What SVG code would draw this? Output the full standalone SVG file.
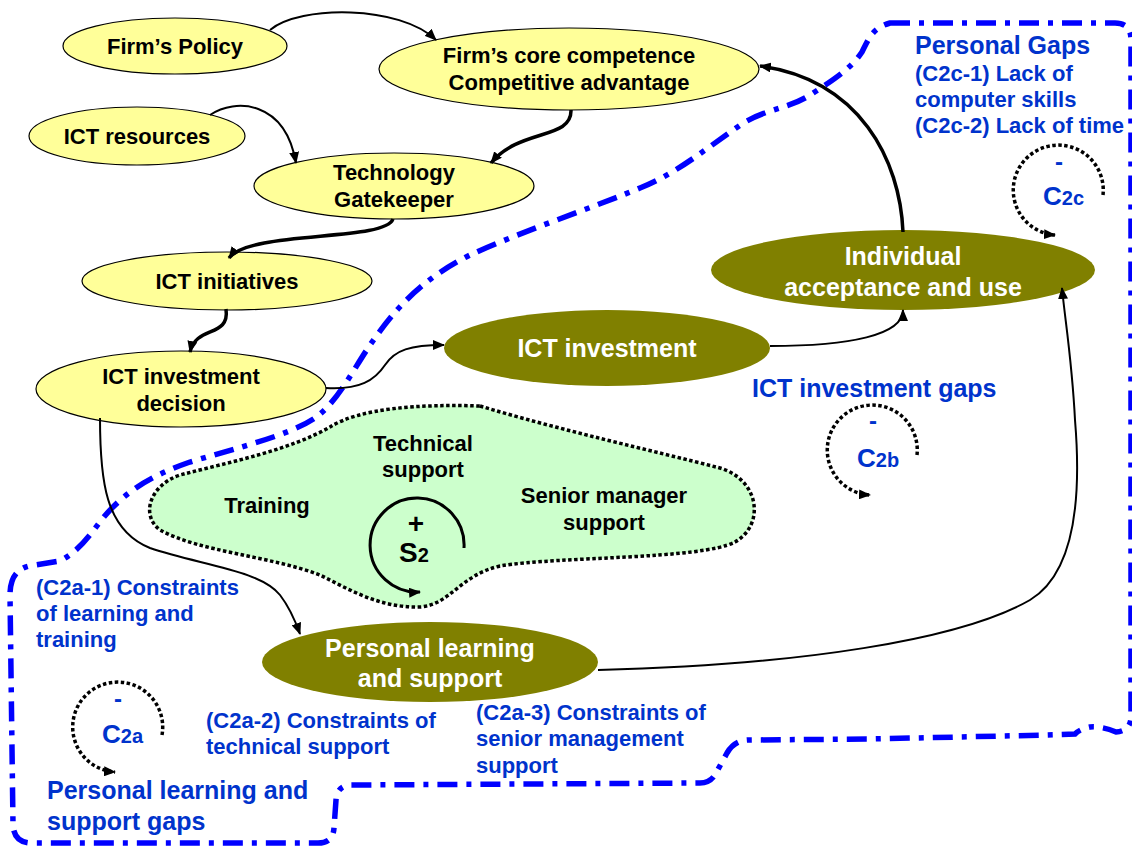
<svg xmlns="http://www.w3.org/2000/svg" width="1132" height="850" viewBox="0 0 1132 850">
<defs>
<style>
text{font-family:"Liberation Sans",Arial,sans-serif;font-weight:bold}
.yel{fill:#FFFF99;stroke:#000;stroke-width:1.2}
.olv{fill:#808000;stroke:none}
.nt{font-size:22px;fill:#000;text-anchor:middle}
.wt{font-size:25px;fill:#fff;text-anchor:middle}
.bl{font-size:22px;fill:#0033CC}
.blb{font-size:25px;fill:#0033CC}
.gt{font-size:22px;fill:#000;text-anchor:middle}
.cn{fill:none;stroke:#000;stroke-width:2}
.ck{fill:none;stroke:#000;stroke-width:3.5}
.dl{fill:none;stroke:#000;stroke-width:3.5;stroke-dasharray:3.5 2.5}
.big{font-size:26px;fill:#0033CC}
.sub{font-size:20px}
</style>
<marker id="ah" markerUnits="userSpaceOnUse" markerWidth="12" markerHeight="10" refX="11" refY="5" orient="auto">
<path d="M0,0 L12,5 L0,10 z" fill="#000"/>
</marker>
</defs>
<rect width="1132" height="850" fill="#fff"/>

<g id="boundary">
<path d="M 890 23 L 1115 23 Q 1131 23 1131 40 L 1131 718 Q 1130 731 1116 732 Q 1102 726 1090 727 Q 1080 729 1075 734 L 1047 735 L 870 739 L 747 740 Q 734 741 727 753 L 716 773 Q 711 783 700 783 L 350 785 Q 337 786 336 800 L 334 828 Q 333 843 318 843 L 32 843 Q 14 843 13 825 L 10 595 Q 10 567 35 565 L 60 561 C 85 548 95 525 112 508 C 130 490 150 476 190 462 C 240 447 290 435 315 418 C 340 400 355 365 375 338 C 395 310 420 280 470 255 C 520 232 600 205 640 188 C 680 172 710 145 745 122 C 770 108 790 108 810 95 C 830 82 850 70 862 52 C 868 40 872 28 890 23 Z" fill="none" stroke="#0000FF" stroke-width="5.5" stroke-dasharray="20 9 5 9"/>
</g>

<g id="blob">
<path d="M 480 406 C 560 430 650 450 720 468 C 760 480 765 525 735 542 C 700 560 560 556 500 566 C 460 575 450 605 420 607 C 380 608 350 590 320 575 C 270 556 200 552 160 530 C 140 515 150 485 180 475 C 230 462 290 450 330 427 C 360 408 420 404 480 406 Z" fill="#CCFFCC" stroke="#000" stroke-width="3.5" stroke-dasharray="3.5 2.5"/>
<text class="gt" x="423" y="451">Technical</text>
<text class="gt" x="423" y="477">support</text>
<text class="gt" x="267" y="513">Training</text>
<text class="gt" x="604" y="503">Senior manager</text>
<text class="gt" x="604" y="530">support</text>
</g>

<g id="loop-s2">
<path d="M 464 548 A 47 47 0 1 0 420 592" fill="none" stroke="#000" stroke-width="3" marker-end="url(#ah)"/>
<text x="416" y="533" font-size="28" text-anchor="middle" fill="#000">+</text>
<text x="399" y="562" font-size="28" fill="#000">S<tspan font-size="20">2</tspan></text>
</g>

<g id="nodes">
<g id="n-policy"><ellipse class="yel" cx="175" cy="46" rx="112" ry="28"/><text class="nt" x="175" y="54">Firm’s Policy</text></g>
<g id="n-core"><ellipse class="yel" cx="569" cy="69" rx="190" ry="41"/><text class="nt" x="569" y="63">Firm’s core competence</text><text class="nt" x="569" y="90">Competitive advantage</text></g>
<g id="n-res"><ellipse class="yel" cx="137" cy="136" rx="108" ry="29"/><text class="nt" x="137" y="144">ICT resources</text></g>
<g id="n-gate"><ellipse class="yel" cx="394" cy="186" rx="140" ry="33"/><text class="nt" x="394" y="180">Technology</text><text class="nt" x="394" y="207">Gatekeeper</text></g>
<g id="n-init"><ellipse class="yel" cx="227" cy="281" rx="145" ry="29"/><text class="nt" x="227" y="289">ICT initiatives</text></g>
<g id="n-dec"><ellipse class="yel" cx="181" cy="389" rx="145" ry="38"/><text class="nt" x="181" y="384">ICT investment</text><text class="nt" x="181" y="411">decision</text></g>
<g id="n-inv"><ellipse class="olv" cx="607" cy="348" rx="163" ry="38"/><text class="wt" x="607" y="357">ICT investment</text></g>
<g id="n-ind"><ellipse class="olv" cx="903" cy="270" rx="192" ry="40"/><text class="wt" x="903" y="265">Individual</text><text class="wt" x="903" y="296">acceptance and use</text></g>
<g id="n-pls"><ellipse class="olv" cx="430" cy="662" rx="168" ry="40"/><text class="wt" x="430" y="657">Personal learning</text><text class="wt" x="430" y="687">and support</text></g>
</g>

<g id="connectors">
<path class="cn" d="M 270 30 C 300 5 400 5 436 40" marker-end="url(#ah)"/>
<path class="cn" d="M 210 115 C 235 98 285 100 296 163" marker-end="url(#ah)"/>
<path class="ck" d="M 571 110 C 572 140 520 128 491 163" marker-end="url(#ah)"/>
<path class="ck" d="M 393 219 C 385 242 250 230 229 258" marker-end="url(#ah)"/>
<path class="ck" d="M 226 309 C 230 338 196 325 190 352" marker-end="url(#ah)"/>
<path class="cn" d="M 326 388 C 360 390 375 380 385 365 C 395 350 410 345 444 345" marker-end="url(#ah)"/>
<path class="cn" d="M 100 418 C 100 480 105 530 150 548 C 200 565 260 570 280 595 C 290 608 295 620 300 634" marker-end="url(#ah)"/>
<path class="cn" d="M 770 346 C 850 346 903 335 903 310" marker-end="url(#ah)"/>
<path class="ck" d="M 903 232 C 900 160 860 80 760 66" stroke-width="3" marker-end="url(#ah)"/>
<path class="cn" d="M 598 670 C 800 665 960 640 1030 600 C 1080 570 1080 480 1075 420 C 1072 360 1065 320 1062 288" marker-end="url(#ah)"/>
</g>

<g id="loop-c2c">
<path class="dl" d="M 1103 195 A 45 45 0 1 0 1055 235" marker-end="url(#ah)"/>
<text x="1059" y="170" font-size="24" text-anchor="middle" fill="#0033CC">-</text>
<text class="big" x="1043" y="205">C<tspan class="sub">2c</tspan></text>
</g>
<g id="loop-c2b">
<path class="dl" d="M 917 455 A 45 45 0 1 0 870 495" marker-end="url(#ah)"/>
<text x="873" y="429" font-size="24" text-anchor="middle" fill="#0033CC">-</text>
<text class="big" x="857" y="467">C<tspan class="sub">2b</tspan></text>
</g>
<g id="loop-c2a">
<path class="dl" d="M 162 735 A 45 45 0 1 0 115 772" marker-end="url(#ah)"/>
<text x="118" y="707" font-size="24" text-anchor="middle" fill="#0033CC">-</text>
<text class="big" x="102" y="743">C<tspan class="sub">2a</tspan></text>
</g>

<g id="labels">
<text class="blb" x="915" y="54">Personal Gaps</text>
<text class="bl" x="915" y="81">(C2c-1) Lack of</text>
<text class="bl" x="915" y="107">computer skills</text>
<text class="bl" x="915" y="133">(C2c-2) Lack of time</text>
<text class="blb" x="752" y="397">ICT investment gaps</text>
<text class="bl" x="36" y="595">(C2a-1) Constraints</text>
<text class="bl" x="36" y="621">of learning and</text>
<text class="bl" x="36" y="647">training</text>
<text class="bl" x="206" y="728">(C2a-2) Constraints of</text>
<text class="bl" x="206" y="754">technical support</text>
<text class="bl" x="476" y="720">(C2a-3) Constraints of</text>
<text class="bl" x="476" y="746">senior management</text>
<text class="bl" x="476" y="773">support</text>
<text class="blb" x="47" y="799">Personal learning and</text>
<text class="blb" x="47" y="830">support gaps</text>
</g>
</svg>
